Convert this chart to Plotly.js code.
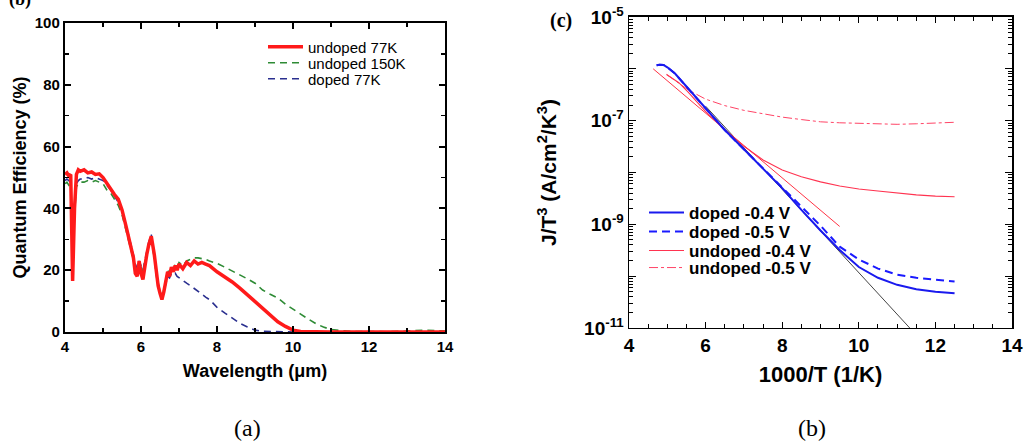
<!DOCTYPE html>
<html>
<head>
<meta charset="utf-8">
<script src="https://cdn.plot.ly/plotly-3.0.1.min.js"></script>
<style>html,body{margin:0;padding:0;background:#fff;}#chart{width:1024px;height:446px;}</style>
</head>
<body>
<div id="chart"></div>
<script>
// ---- Panel (a): quantum efficiency vs wavelength ----
const wavelength = [4.0,4.05,4.1,4.15,4.2,4.25,4.3,4.35,4.4,4.5,4.6,4.7,4.8,4.9,5.0,5.1,5.2,5.3,5.4,5.5,5.6,5.7,5.8,5.85,5.9,5.95,6.0,6.05,6.1,6.15,6.2,6.27,6.35,6.4,6.45,6.5,6.55,6.6,6.65,6.7,6.75,6.8,6.85,6.9,6.95,7.0,7.1,7.2,7.3,7.4,7.5,7.6,7.7,7.8,8.0,8.2,8.4,8.6,8.8,9.0,9.2,9.4,9.6,9.8,10.0,10.2,10.4,10.6,10.8,11.0,11.5,12.0,12.5,13.0,13.5,14.0];
const qeUndoped77K = [51,51.5,50.5,51,16.5,40,51,52.5,52,52.5,51.5,51.8,51,51.2,50,48,46,44.5,43,39.5,34.5,29,24,19,18,23,19,17,22,25,28,31,25,19,15,12.5,10.5,13,16,19.5,18,21,19.5,21.5,20,22,20.5,22.5,21.5,23,22,22.5,22,21.5,19.5,18,16.2,14.2,12,10,7.6,5.3,3.3,1.8,0.6,0.2,0.1,0,0,0,0,0,0,0,0,0];
const qeUndoped150K = [48,48.5,47.5,48,19,38,47,48,48.5,48.5,49,48.5,49,48.5,48,46,45,43,41,38,33,28,23,21,19.5,22.5,21,19.5,22.5,25,27.5,29.5,24,18.5,15,13,12,13.5,16.5,20,19,21,20,22,21,22.5,21.5,23,23.5,24,24,23.8,23.5,23,22.2,21,19.8,18.5,17.2,15.8,13.6,12.2,11,9,7.5,5.8,4.2,2.7,1.6,0.8,0.2,0.1,0.1,0.3,0.6,0.3];
const qeDoped77K = [49,49.5,49,48.5,18.5,39,48,49,49.5,49.5,50,49.5,50,49.5,49,47.5,46,44,42,39.5,35,30,25,22,20.5,23,21.5,20,23,26,29,31.5,25,19,15.5,13,11.5,13,15.5,18,17.5,19,18.5,19,18,17.5,16.5,15.8,15,14,13,12.2,11.3,10.5,8.0,6.2,4.4,2.8,1.6,0.6,0.2,0.1,0,0,0,0,0,0,0,0,0,0,0,0,0,0];

// ---- Panel (b): J/T^3 vs 1000/T ----
const invTDoped = [4.72,4.8,4.9,5.0,5.2,5.6,6.0,6.5,7.0,7.5,8.0,8.5,9.0,9.5,10.0,10.5,11.0,11.5,12.0,12.5];
const jDoped04 = [1.17e-6,1.20e-6,1.19e-6,1.07e-6,8.1e-7,3.7e-7,1.7e-7,6.6e-8,2.8e-8,1.17e-8,5.0e-9,1.9e-9,7.6e-10,3.2e-10,1.5e-10,9.3e-11,6.8e-11,5.6e-11,5.0e-11,4.7e-11];
const jDoped05 = [1.17e-6,1.20e-6,1.19e-6,1.07e-6,8.1e-7,3.7e-7,1.7e-7,6.6e-8,2.8e-8,1.2e-8,5.3e-9,2.2e-9,9.4e-10,3.7e-10,2.1e-10,1.4e-10,1.07e-10,9.3e-11,8.5e-11,7.9e-11];
const invTUndoped = [4.98,5.3,5.55,6.0,6.5,7.0,7.5,8.0,8.5,9.0,9.5,10.0,10.5,11.0,11.5,12.0,12.5];
const jUndoped04 = [7.8e-7,5.4e-7,3.5e-7,1.5e-7,6.6e-8,3.2e-8,1.74e-8,1.12e-8,8.3e-9,6.6e-9,5.5e-9,4.8e-9,4.4e-9,4.0e-9,3.7e-9,3.5e-9,3.4e-9];
const jUndoped05 = [7.8e-7,5.4e-7,3.9e-7,2.6e-7,1.95e-7,1.58e-7,1.35e-7,1.17e-7,1.05e-7,9.5e-8,9.1e-8,8.9e-8,8.7e-8,8.5e-8,8.7e-8,8.9e-8,9.3e-8];
const fitUndopedX = [4.63, 9.5];
const fitUndopedJ = [1.0e-6, 9.1e-10];
const fitDopedX = [6.0, 11.33];
const fitDopedJ = [1.9e-7, 1.0e-11];

const yTickVals = [1e-11,1e-10,1e-9,1e-8,1e-7,1e-6,1e-5];
const yTickText = ['10<sup>-11</sup>','','10<sup>-9</sup>','','10<sup>-7</sup>','','10<sup>-5</sup>'];

const SANS = 'Liberation Sans, Arial, sans-serif';
const SERIF = 'Liberation Serif, Times New Roman, serif';

const traces = [
  {x: wavelength, y: qeDoped77K, name: 'doped 77K', mode: 'lines', line: {color: '#2a2f8f', width: 1.6, dash: '7px,5px'}, xaxis: 'x', yaxis: 'y', legend: 'legend4'},
  {x: wavelength, y: qeUndoped150K, name: 'undoped 150K', mode: 'lines', line: {color: '#2e8b35', width: 1.6, dash: '7px,5px'}, xaxis: 'x', yaxis: 'y', legend: 'legend3'},
  {x: wavelength, y: qeUndoped77K, name: 'undoped 77K', mode: 'lines', line: {color: '#ff1a1a', width: 3.5}, xaxis: 'x', yaxis: 'y', legend: 'legend'},

  {x: fitDopedX, y: fitDopedJ, mode: 'lines', line: {color: '#444', width: 1}, xaxis: 'x2', yaxis: 'y2', showlegend: false},
  {x: fitUndopedX, y: fitUndopedJ, mode: 'lines', line: {color: '#ff3344', width: 1}, xaxis: 'x2', yaxis: 'y2', showlegend: false},
  {x: invTUndoped, y: jUndoped05, name: 'undoped -0.5 V', mode: 'lines', line: {color: '#ff4466', width: 1, dash: 'dashdot'}, xaxis: 'x2', yaxis: 'y2', legend: 'legend7'},
  {x: invTUndoped, y: jUndoped04, name: 'undoped -0.4 V', mode: 'lines', line: {color: '#ff3350', width: 1.1}, xaxis: 'x2', yaxis: 'y2', legend: 'legend6'},
  {x: invTDoped, y: jDoped05, name: 'doped -0.5 V', mode: 'lines', line: {color: '#1a1aff', width: 2, dash: '8px,5px'}, xaxis: 'x2', yaxis: 'y2', legend: 'legend5'},
  {x: invTDoped, y: jDoped04, name: 'doped -0.4 V', mode: 'lines', line: {color: '#1a1aee', width: 2}, xaxis: 'x2', yaxis: 'y2', legend: 'legend2'}
];

const axisCommon = {showgrid: false, zeroline: false, ticks: 'inside', mirror: 'ticks', linecolor: '#000', tickcolor: '#000', color: '#000'};

function leg(px, py, size, bold) {
  return {x: px/1024, y: 1 - py/446, xanchor: 'left', yanchor: 'middle', bgcolor: 'rgba(0,0,0,0)', borderwidth: 0,
    font: {family: SANS, size: size, weight: bold ? 'bold' : 'normal', color: '#000'}, itemwidth: 35, tracegroupgap: 0};
}

const layout = {
  width: 1024, height: 446,
  margin: {l: 0, r: 0, t: 0, b: 0},
  paper_bgcolor: '#fff', plot_bgcolor: '#fff',
  font: {family: SANS, color: '#000'},
  xaxis: Object.assign({}, axisCommon, {
    domain: [0.0635, 0.4346], range: [4, 14], tick0: 4, dtick: 2, ticklen: 6, tickwidth: 2, linewidth: 2.2,
    minor: {dtick: 1, ticks: 'inside', ticklen: 4, tickwidth: 1.5, tickcolor: '#000'},
    tickfont: {family: SANS, size: 15, weight: 'bold'},
    title: {text: 'Wavelength (\u03bcm)', font: {family: SANS, size: 18, weight: 'bold'}, standoff: 10}
  }),
  yaxis: Object.assign({}, axisCommon, {
    domain: [0.2556, 0.9484], range: [0, 100], tick0: 0, dtick: 20, ticklen: 6, tickwidth: 2, linewidth: 2.2,
    minor: {dtick: 10, ticks: 'inside', ticklen: 4, tickwidth: 1.5, tickcolor: '#000'},
    tickfont: {family: SANS, size: 15, weight: 'bold'},
    title: {text: 'Quantum Efficiency (%)', font: {family: SANS, size: 18, weight: 'bold'}, standoff: 4}
  }),
  xaxis2: Object.assign({}, axisCommon, {
    anchor: 'y2', domain: [0.6143, 0.9883], range: [4, 14], tick0: 4, dtick: 2, ticklen: 6, tickwidth: 1.3, linewidth: 1.5,
    minor: {dtick: 0.5, ticks: 'inside', ticklen: 4, tickwidth: 1, tickcolor: '#000'},
    tickfont: {family: SANS, size: 19, weight: 'bold'},
    title: {text: '1000/T (1/K)', font: {family: SANS, size: 22, weight: 'bold'}, standoff: 11}
  }),
  yaxis2: Object.assign({}, axisCommon, {
    anchor: 'x2', type: 'log', domain: [0.2646, 0.9619], range: [-11, -5],
    tickmode: 'array', tickvals: yTickVals, ticktext: yTickText, ticklen: 7, tickwidth: 1.3, linewidth: 1.5,
    minor: {dtick: 'D1', ticks: 'inside', ticklen: 4, tickwidth: 1, tickcolor: '#000'},
    tickfont: {family: SANS, size: 19, weight: 'bold'},
    title: {text: 'J/T<sup>3</sup> (A/cm<sup>2</sup>/K<sup>3</sup>)', font: {family: SANS, size: 21, weight: 'bold'}, standoff: 22}
  }),
  legend: leg(263, 47, 15, false),
  legend3: leg(263, 63, 15, false),
  legend4: leg(263, 79, 15, false),
  legend2: leg(644, 213, 17, true),
  legend5: leg(644, 232, 17, true),
  legend6: leg(644, 251, 17, true),
  legend7: leg(644, 268, 17, true),
  annotations: [
    {text: '(a)', x: 247/1024, y: 1 - 428/446, xref: 'paper', yref: 'paper', showarrow: false, xanchor: 'center', yanchor: 'middle', font: {family: SERIF, size: 24, color: '#000'}},
    {text: '(b)', x: 812/1024, y: 1 - 428/446, xref: 'paper', yref: 'paper', showarrow: false, xanchor: 'center', yanchor: 'middle', font: {family: SERIF, size: 24, color: '#000'}},
    {text: '(c)', x: 561/1024, y: 1 - 20/446, xref: 'paper', yref: 'paper', showarrow: false, xanchor: 'center', yanchor: 'middle', font: {family: SERIF, size: 20, weight: 'bold', color: '#000'}},
    {text: '(b)', x: 20/1024, y: 1 - 12/446, xref: 'paper', yref: 'paper', showarrow: false, xanchor: 'center', yanchor: 'bottom', font: {family: SERIF, size: 18, weight: 'bold', color: '#000'}}
  ]
};

Plotly.newPlot('chart', traces, layout, {displayModeBar: false, staticPlot: true});
</script>
</body>
</html>
